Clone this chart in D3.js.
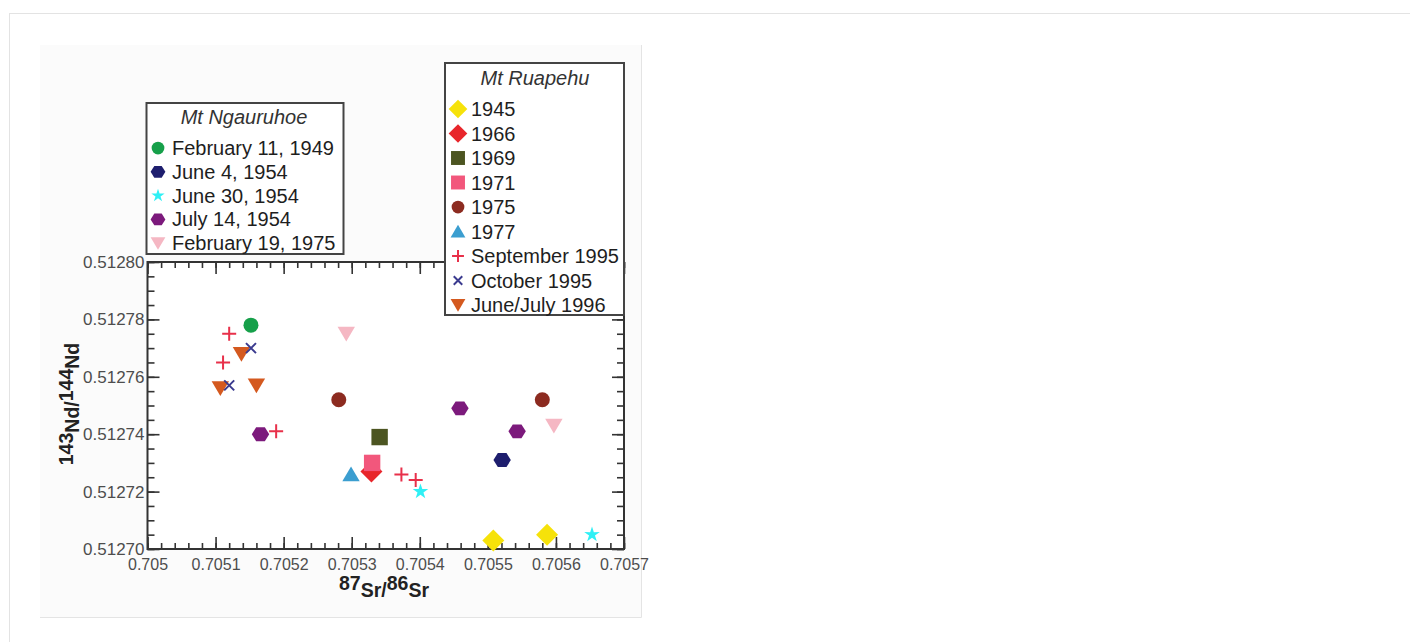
<!DOCTYPE html>
<html><head><meta charset="utf-8">
<script src="https://cdn.jsdelivr.net/npm/d3@7"></script>
<style>
body{margin:0;background:#fff}
svg{display:block}
text{font-family:"Liberation Sans",Arial,Helvetica,sans-serif}
</style>
</head><body>
<svg id="c" width="1410" height="642"></svg>
<script>
// ---------- data ----------
const xTicks = [0.705, 0.7051, 0.7052, 0.7053, 0.7054, 0.7055, 0.7056, 0.7057];
const xTickLabels = ["0.705", "0.7051", "0.7052", "0.7053", "0.7054", "0.7055", "0.7056", "0.7057"];
const yTicks = [0.5127, 0.51272, 0.51274, 0.51276, 0.51278, 0.5128];
const yTickLabels = ["0.51270", "0.51272", "0.51274", "0.51276", "0.51278", "0.51280"];

const ngauruhoeTitle = "Mt Ngauruhoe";
const ngauruhoeLabels = ["February 11, 1949", "June 4, 1954", "June 30, 1954", "July 14, 1954", "February 19, 1975"];
const ruapehuTitle = "Mt Ruapehu";
const ruapehuLabels = ["1945", "1966", "1969", "1971", "1975", "1977", "September 1995", "October 1995", "June/July 1996"];

// Mt Ngauruhoe  (87Sr/86Sr , 143Nd/144Nd)
const feb1949X = [0.705152];                       const feb1949Y = [0.512778];
const jun4_1954X = [0.705521];                     const jun4_1954Y = [0.512731];
const jun30_1954X = [0.705401, 0.705653];          const jun30_1954Y = [0.51272, 0.512705];
const jul14_1954X = [0.705166, 0.705459, 0.705543]; const jul14_1954Y = [0.51274, 0.512749, 0.512741];
const feb1975X = [0.705292, 0.705597];             const feb1975Y = [0.512775, 0.512743];

// Mt Ruapehu
const r1945X = [0.705508, 0.705587];               const r1945Y = [0.512703, 0.512705];
const r1966X = [0.705329];                         const r1966Y = [0.512727];
const r1969X = [0.705341];                         const r1969Y = [0.512739];
const r1971X = [0.70533];                          const r1971Y = [0.51273];
const r1975X = [0.705281, 0.70558];                const r1975Y = [0.512752, 0.512752];
const r1977X = [0.705299];                         const r1977Y = [0.512726];
const sep1995X = [0.70512, 0.705111, 0.705189, 0.705373, 0.705394];
const sep1995Y = [0.512775, 0.512765, 0.512741, 0.512726, 0.512724];
const oct1995X = [0.705152, 0.70512];              const oct1995Y = [0.51277, 0.512757];
const junjul1996X = [0.705138, 0.705107, 0.70516]; const junjul1996Y = [0.512768, 0.512756, 0.512757];

// ---------- styles ----------
const ngStyles = [
  {shape: "circle", color: "#16a04a", xs: feb1949X, ys: feb1949Y},
  {shape: "hexagon", color: "#1e1e6e", xs: jun4_1954X, ys: jun4_1954Y},
  {shape: "star", color: "#2ff0f5", xs: jun30_1954X, ys: jun30_1954Y},
  {shape: "hexagon", color: "#7c1a7c", xs: jul14_1954X, ys: jul14_1954Y},
  {shape: "triDown", color: "#f5b7c3", xs: feb1975X, ys: feb1975Y}
];
const ruStyles = [
  {shape: "diamond", color: "#f6e20a", xs: r1945X, ys: r1945Y},
  {shape: "diamond", color: "#e8262b", xs: r1966X, ys: r1966Y},
  {shape: "square", color: "#4c5521", xs: r1969X, ys: r1969Y},
  {shape: "square", color: "#f2577c", xs: r1971X, ys: r1971Y},
  {shape: "circle", color: "#8c2b20", xs: r1975X, ys: r1975Y},
  {shape: "triUp", color: "#3b9ed0", xs: r1977X, ys: r1977Y},
  {shape: "plus", color: "#e8304a", xs: sep1995X, ys: sep1995Y},
  {shape: "cross", color: "#3b3b8f", xs: oct1995X, ys: oct1995Y},
  {shape: "triDown", color: "#d4591f", xs: junjul1996X, ys: junjul1996Y}
];
const plotSize = {circle: 7.5, hexagon: 8.7, star: 8.2, triDown: 8.7, triUp: 8.7, diamond: 11, square: 8.2, plus: 7, cross: 5};

function shapePath(type, r) {
  const p = d3.path();
  if (type === "circle") { p.moveTo(r, 0); p.arc(0, 0, r, 0, 2 * Math.PI); p.closePath(); }
  else if (type === "hexagon") {
    for (let i = 0; i < 6; i++) { const a = i * Math.PI / 3; const px = r * Math.cos(a), py = r * 0.92 * Math.sin(a); i ? p.lineTo(px, py) : p.moveTo(px, py); }
    p.closePath();
  } else if (type === "star") {
    for (let i = 0; i < 10; i++) { const a = -Math.PI / 2 + i * Math.PI / 5; const rr = i % 2 ? r * 0.38 : r; const px = rr * Math.cos(a), py = rr * Math.sin(a); i ? p.lineTo(px, py) : p.moveTo(px, py); }
    p.closePath();
  } else if (type === "triDown") { p.moveTo(-r, -r * 0.8); p.lineTo(r, -r * 0.8); p.lineTo(0, r * 0.9); p.closePath(); }
  else if (type === "triUp") { p.moveTo(-r, r * 0.8); p.lineTo(r, r * 0.8); p.lineTo(0, -r * 0.9); p.closePath(); }
  else if (type === "diamond") { p.moveTo(0, -r); p.lineTo(r, 0); p.lineTo(0, r); p.lineTo(-r, 0); p.closePath(); }
  else if (type === "square") { p.rect(-r, -r, 2 * r, 2 * r); }
  else if (type === "plus") { p.moveTo(-r, 0); p.lineTo(r, 0); p.moveTo(0, -r); p.lineTo(0, r); }
  else if (type === "cross") { p.moveTo(-r, -r); p.lineTo(r, r); p.moveTo(r, -r); p.lineTo(-r, r); }
  return p.toString();
}
function drawMarker(g, type, color, cx, cy, r) {
  const stroked = type === "plus" || type === "cross";
  g.append("path").attr("d", shapePath(type, r)).attr("transform", `translate(${cx},${cy})`)
    .attr("fill", stroked ? "none" : color).attr("stroke", stroked ? color : "none")
    .attr("stroke-width", stroked ? 2 : 0);
}

// ---------- layout ----------
const svg = d3.select("#c");
svg.append("rect").attr("x", 9.5).attr("y", 13.5).attr("width", 1420).attr("height", 700)
  .attr("fill", "none").attr("stroke", "#e3e3e3");
svg.append("rect").attr("x", 40).attr("y", 45).attr("width", 601).attr("height", 572).attr("fill", "#fbfbfb");
svg.append("path").attr("d", "M641.5,45V617.5H40").attr("stroke", "#e4e4e4").attr("fill", "none");

const m = {l: 147.5, r: 624, t: 262, b: 549};
const x = d3.scaleLinear().domain([0.705, 0.7057]).range([m.l, m.r]);
const y = d3.scaleLinear().domain([0.5127, 0.5128]).range([m.b, m.t]);
svg.append("rect").attr("x", m.l).attr("y", m.t).attr("width", m.r - m.l).attr("height", m.b - m.t).attr("fill", "#fff");

const xMinor = d3.range(0, 36).map(i => 0.705 + i * 0.00002);
const yMinor = d3.range(0, 21).map(i => 0.5127 + i * 0.000005);

function axisG(axis, tx, ty) {
  const g = svg.append("g").attr("transform", `translate(${tx},${ty})`).call(axis);
  g.select(".domain").remove();
  g.selectAll("line").attr("stroke", "#333").attr("stroke-width", 1.6);
  return g;
}
// bottom
axisG(d3.axisBottom(x).tickValues(xMinor).tickSize(-6).tickFormat(""), 0, m.b);
const xb = axisG(d3.axisBottom(x).tickValues(xTicks).tickSize(-12).tickPadding(10).tickFormat((d, i) => xTickLabels[i]), 0, m.b);
xb.selectAll("text").attr("font-size", 16).attr("fill", "#4d4d4d").attr("font-family", "Liberation Sans, Arial, sans-serif");
// top
axisG(d3.axisTop(x).tickValues(xMinor).tickSize(-6).tickFormat(""), 0, m.t);
axisG(d3.axisTop(x).tickValues(xTicks).tickSize(-12).tickFormat(""), 0, m.t);
// left
axisG(d3.axisLeft(y).tickValues(yMinor).tickSize(-7).tickFormat(""), m.l, 0);
const yl = axisG(d3.axisLeft(y).tickValues(yTicks).tickSize(-12).tickPadding(3).tickFormat((d, i) => yTickLabels[i]), m.l, 0);
yl.selectAll("text").attr("font-size", 17).attr("fill", "#4d4d4d").attr("font-family", "Liberation Sans, Arial, sans-serif");
// right
axisG(d3.axisRight(y).tickValues(yMinor).tickSize(-7).tickFormat(""), m.r, 0);
axisG(d3.axisRight(y).tickValues(yTicks).tickSize(-12).tickFormat(""), m.r, 0);

svg.append("rect").attr("x", m.l).attr("y", m.t).attr("width", m.r - m.l).attr("height", m.b - m.t)
  .attr("fill", "none").attr("stroke", "#333").attr("stroke-width", 2);

// axis titles
const xt = svg.append("text").attr("x", 384).attr("y", 597).attr("text-anchor", "middle")
  .attr("font-weight", "bold").attr("font-size", 19.5).attr("fill", "#222");
[["87", true], ["Sr", false], ["/", false], ["86", true], ["Sr", false]].forEach(([t, sup], i, arr) => {
  const prevSup = i > 0 ? arr[i - 1][1] : false;
  xt.append("tspan").text(t).attr("dy", i === 0 ? (sup ? -7 : 0) : (sup && !prevSup ? -7 : (!sup && prevSup ? 7 : 0)));
});
const yt = svg.append("text").attr("transform", "translate(79,404) rotate(-90)").attr("text-anchor", "middle")
  .attr("font-weight", "bold").attr("font-size", 19.5).attr("fill", "#222");
[["143", true], ["Nd", false], ["/", false], ["144", true], ["Nd", false]].forEach(([t, sup], i, arr) => {
  const prevSup = i > 0 ? arr[i - 1][1] : false;
  yt.append("tspan").text(t).attr("dy", i === 0 ? (sup ? -6 : 0) : (sup && !prevSup ? -6 : (!sup && prevSup ? 6 : 0)));
});

// points
const pg = svg.append("g");
const drawOrder = [...ngStyles, ...ruStyles.slice(0, 6), ruStyles[8], ruStyles[6], ruStyles[7]];
drawOrder.forEach(s => {
  s.xs.forEach((xv, i) => drawMarker(pg, s.shape, s.color, x(xv), y(s.ys[i]), plotSize[s.shape]));
});

// legends
function legend(title, labels, styles, bx, by, bw, bh, titleX, titleY, mx, tx, y0, step) {
  const g = svg.append("g");
  g.append("rect").attr("x", bx).attr("y", by).attr("width", bw).attr("height", bh)
    .attr("fill", "#fff").attr("stroke", "#444").attr("stroke-width", 2);
  g.append("text").attr("x", titleX).attr("y", titleY).attr("text-anchor", "middle")
    .attr("font-style", "italic").attr("font-size", 20).attr("fill", "#333").text(title);
  labels.forEach((lab, i) => {
    const cy = y0 + i * step;
    drawMarker(g, styles[i].shape, styles[i].color, mx, cy, plotSize[styles[i].shape] * 0.85);
    g.append("text").attr("x", tx).attr("y", cy + 7).attr("font-size", 20).attr("fill", "#1e1e1e").text(lab);
  });
}
legend(ngauruhoeTitle, ngauruhoeLabels, ngStyles, 146.5, 103, 197, 151, 244, 124, 158, 172, 148, 23.8);
legend(ruapehuTitle, ruapehuLabels, ruStyles, 445, 63, 179, 252, 535, 85, 458, 471, 109, 24.5);
</script>
</body></html>
